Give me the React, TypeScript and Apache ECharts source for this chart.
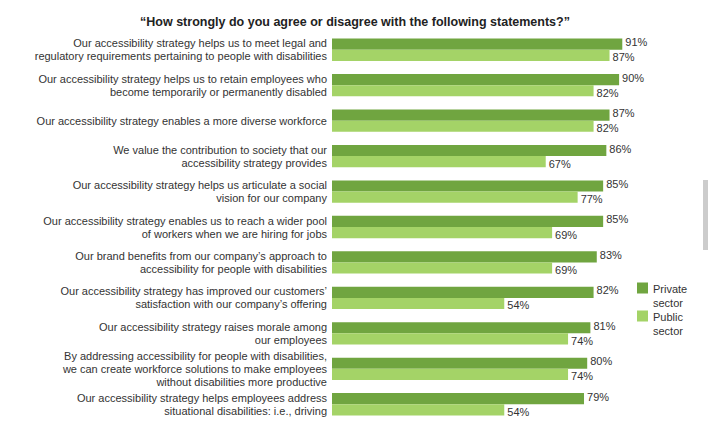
import React, { useEffect, useRef } from "react";
import * as echarts from "echarts";

const titleText = "\u201cHow strongly do you agree or disagree with the following statements?\u201d";

const categories = [
  "Our accessibility strategy helps us to meet legal and\nregulatory requirements pertaining to people with disabilities",
  "Our accessibility strategy helps us to retain employees who\nbecome temporarily or permanently disabled",
  "Our accessibility strategy enables a more diverse workforce",
  "We value the contribution to society that our\naccessibility strategy provides",
  "Our accessibility strategy helps us articulate a social\nvision for our company",
  "Our accessibility strategy enables us to reach a wider pool\nof workers when we are hiring for jobs",
  "Our brand benefits from our company\u2019s approach to\naccessibility for people with disabilities",
  "Our accessibility strategy has improved our customers\u2019\nsatisfaction with our company\u2019s offering",
  "Our accessibility strategy raises morale among\nour employees",
  "By addressing accessibility for people with disabilities,\nwe can create workforce solutions to make employees\nwithout disabilities more productive",
  "Our accessibility strategy helps employees address\nsituational disabilities: i.e., driving",
];

const privateSector = [91, 90, 87, 86, 85, 85, 83, 82, 81, 80, 79];
const publicSector = [87, 82, 82, 67, 77, 69, 69, 54, 74, 74, 54];

const seriesNames = ["Private\nsector", "Public\nsector"];
const colors = ["#70a540", "#a4d367"];

export default function App() {
  const ref = useRef<HTMLDivElement>(null);
  useEffect(() => {
    if (!ref.current) return;
    const chart = echarts.init(ref.current, null, { renderer: "svg" });
    const font = "Liberation Sans, Arial, sans-serif";
    const legendIcon = "path://M0,0H11V11H0Z M0,27L0.01,27L0,26.99Z";
    chart.setOption({
      animation: false,
      backgroundColor: "#ffffff",
      title: {
        text: titleText,
        left: 350,
        textAlign: "center",
        top: 10,
        textStyle: { fontFamily: font, fontSize: 12.5, fontWeight: "bold", color: "#222" },
      },
      legend: {
        orient: "vertical",
        left: 637,
        top: 282,
        itemWidth: 11,
        itemHeight: 27,
        itemGap: 0,
        padding: 0,
        data: seriesNames.map((n) => ({ name: n, icon: legendIcon })),
        textStyle: { fontFamily: font, fontSize: 11, color: "#333", lineHeight: 14 },
      },
      grid: { left: 332, top: 32, width: 319, height: 390, containLabel: false },
      xAxis: {
        type: "value",
        min: 0,
        max: 100,
        show: false,
      },
      yAxis: {
        type: "category",
        inverse: true,
        data: categories,
        axisLine: { show: false },
        axisTick: { show: false },
        axisLabel: {
          margin: 5,
          fontFamily: font,
          fontSize: 11,
          lineHeight: 13,
          color: "#333",
          align: "right",
        },
      },
      series: [
        {
          name: seriesNames[0],
          type: "bar",
          data: privateSector,
          itemStyle: { color: colors[0] },
          barGap: "0%",
          barCategoryGap: "37%",
          label: {
            show: true,
            position: "right",
            distance: 3,
            offset: [0, -2],
            formatter: "{c}%",
            fontFamily: font,
            fontSize: 11,
            color: "#333",
          },
        },
        {
          name: seriesNames[1],
          type: "bar",
          data: publicSector,
          itemStyle: { color: colors[1] },
          barGap: "0%",
          barCategoryGap: "37%",
          label: {
            show: true,
            position: "right",
            distance: 3,
            offset: [0, 2],
            formatter: "{c}%",
            fontFamily: font,
            fontSize: 11,
            color: "#333",
          },
        },
      ],
      graphic: [
        {
          type: "rect",
          shape: { x: 703, y: 180, width: 5, height: 70 },
          style: { fill: "#cccccc" },
        },
      ],
    });
    return () => chart.dispose();
  }, []);
  return <div ref={ref} style={{ width: 719, height: 433, position: "absolute", left: 0, top: 0 }} />;
}
